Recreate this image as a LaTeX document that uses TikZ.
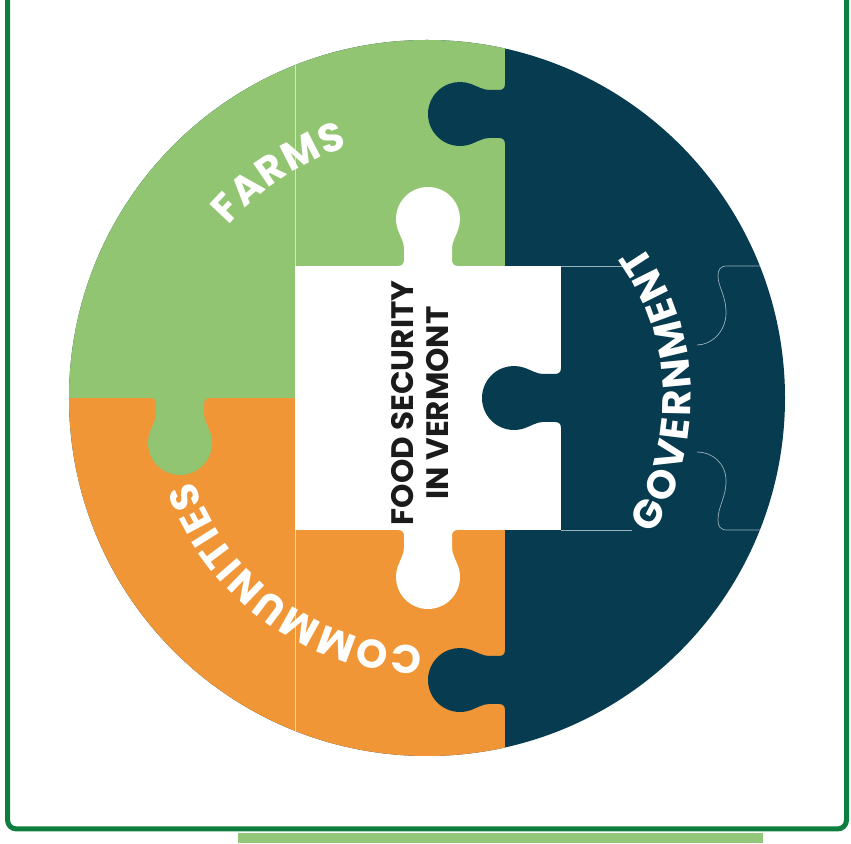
\documentclass[tikz,border=0pt]{standalone}
\usepackage{fontspec}
\setmainfont{Poppins}
\usepackage{xcolor}
\usetikzlibrary{decorations.text}

\definecolor{farmgreen}{HTML}{92C572}
\definecolor{govnavy}{HTML}{063B50}
\definecolor{commorange}{HTML}{F19636}
\definecolor{framegreen}{HTML}{0E7E40}
\definecolor{bargreen}{HTML}{93C77A}
\definecolor{inkblack}{HTML}{1B1B1B}

% one puzzle tab, base on the x axis, pointing up
\newcommand\tabpath[1]{(-30,-3) -- (-30,0) .. controls (-26,0) and (-24,2) .. (-24,6)
  -- (-24,#1-29) .. controls (-24,#1-23) and (-28,#1-16.6) .. (-30.07,#1-10.94)
  arc[start angle=200, end angle=-20, radius=32]
  .. controls (28,#1-16.6) and (24,#1-23) .. (24,#1-29) -- (24,6)
  .. controls (24,2) and (26,0) .. (30,0) -- (30,-3) -- cycle}
\newcommand\arcfont{\fontsize{40}{40}\selectfont\bfseries}

\tikzset{
  seam/.style={draw=white, line width=0.7, opacity=0.6},
  arclabel/.style={decorate, decoration={text along path, text color=white, text align={fit to path}}},
}

\begin{document}
\begin{tikzpicture}[x=1pt, y=1pt]
\useasboundingbox (0,0) rectangle (851,843);
\clip (0,0) rectangle (851,843);
% frame
\draw[framegreen, line width=5, rounded corners=9] (7.5,14) rectangle (846.5,870);
\fill[bargreen] (238,0) rectangle (763,10);
\coordinate (ctr) at (427,445);
% puzzle
\scope
\clip (ctr) circle [radius=358];
\fill[govnavy] (ctr) circle [radius=360];
\fill[farmgreen] (0,445) rectangle (505,843);
\fill[commorange] (0,0) rectangle (505,445);
% knobs
\fill[farmgreen, shift={(180,445)}, rotate=180] \tabpath{45};
\fill[govnavy, shift={(505,729)}, rotate=90] \tabpath{45};
\fill[govnavy, shift={(505,163)}, rotate=90] \tabpath{45};
% centre piece
\fill[white] (295,313) rectangle (561,577);
\fill[white, shift={(428,577)}] \tabpath{47};
\fill[white, shift={(428,313)}, rotate=180] \tabpath{47};
\fill[govnavy, shift={(561,445)}, rotate=90] \tabpath{47};
% seams
\draw[seam] (295,577) -- (295,843) (295,313) -- (295,0);
\draw[seam] (561,577) -- (632,577) (561,313) -- (632,313);
\draw[seam] (770,577) -- (727,577) .. controls (720,577) and (718,573) .. (718,567)
  .. controls (718,556) and (726,548) .. (726,530) .. controls (726,512) and (712,498) .. (697,498);
\draw[seam] (697,391) .. controls (712,391) and (726,380) .. (726,362)
  .. controls (726,345) and (718,337) .. (718,323) .. controls (718,317) and (720,313) .. (727,313) -- (770,313);
\endscope
% labels
\path[arclabel, decoration={text={|\arcfont|FARMS}}]
  ([shift={(139:263)}]ctr) arc[start angle=139, end angle=107.5, radius=263];
\path[arclabel, decoration={text={|\arcfont|GOVERNMENT}}]
  ([shift={(-31:264)}]ctr) arc[start angle=-31, end angle=35.5, radius=264];
\path[arclabel, decoration={text={|\arcfont|COMMUNITIES}}]
  ([shift={(269:248)}]ctr) arc[start angle=269, end angle=199.5, radius=248];
\node[rotate=90, align=center, font=\fontsize{31}{35}\selectfont\bfseries, text=inkblack]
  (core) at (420,440) {FOOD SECURITY\\IN VERMONT};
\end{tikzpicture}
\end{document}
